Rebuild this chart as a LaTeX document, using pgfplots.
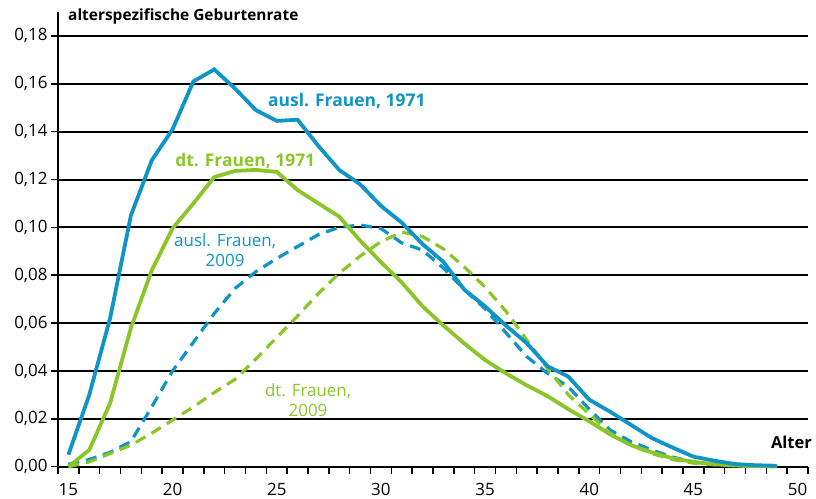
\documentclass[border=0pt]{standalone}
\usepackage{fontspec}
\setmainfont{Open Sans}
\usepackage{pgfplots}
\pgfplotsset{compat=1.18}
\definecolor{ausl}{RGB}{14,148,198}
\definecolor{dt}{RGB}{138,198,40}
\begin{document}
\begin{tikzpicture}[font=\fontsize{17}{20}\selectfont]
\begin{axis}[
    scale only axis,
    width=750bp, height=454.7bp,
    xmin=14.5, xmax=50.5, ymin=0, ymax=0.19,
    axis x line=bottom, axis y line=left,
    axis line style={line width=2bp, -},
    ytick={0,0.02,0.04,0.06,0.08,0.10,0.12,0.14,0.16,0.18},
    ymajorgrids,
    grid style={black, line width=2bp},
    yticklabel style={/pgf/number format/.cd, fixed, fixed zerofill, precision=2, use comma, assume math mode=true},
    xtick={14.5,15.5,...,50.5},
    xticklabels={},
    extra x ticks={15,20,25,30,35,40,45,50},
    extra x tick labels={15,20,25,30,35,40,45,50},
    extra x tick style={grid=none, major tick length=0pt, xticklabel style={yshift=-13bp}},
    tick align=outside,
    major tick length=7bp,
    tick style={black, line width=1.5bp},
    clip=false,
]
% ausl. Frauen 2009
\addplot[ausl, line width=3.2bp, dash pattern=on 11bp off 7bp] coordinates {
(15,0.001)(16,0.003)(17,0.006)(18,0.0105)(19,0.025)(20,0.040)(21,0.052)(22,0.064)
(23,0.0745)(24,0.0815)(25,0.087)(26,0.092)(27,0.097)(28,0.100)(29,0.101)(30,0.0995)
(31,0.0935)(32,0.0905)(33,0.083)(34,0.074)(35,0.066)(36,0.056)(37,0.046)(38,0.039)
(39,0.0334)(40,0.024)(41,0.0153)(42,0.0105)(43,0.007)(44,0.004)(45,0.002)(46,0.001)
(47,0.0007)(48,0.0005)(49,0.0003)};
% dt. Frauen 2009
\addplot[dt, line width=3.2bp, dash pattern=on 11bp off 7bp] coordinates {
(15,0)(16,0.002)(17,0.0055)(18,0.009)(19,0.014)(20,0.0195)(21,0.025)(22,0.031)
(23,0.0365)(24,0.045)(25,0.054)(26,0.063)(27,0.0724)(28,0.0808)(29,0.088)(30,0.094)
(31,0.098)(32,0.0962)(33,0.091)(34,0.0835)(35,0.075)(36,0.065)(37,0.053)(38,0.041)
(39,0.030)(40,0.022)(41,0.014)(42,0.009)(43,0.0055)(44,0.003)(45,0.0015)(46,0.0008)
(47,0.0004)(48,0.0002)(49,0.0001)};
% dt. Frauen 1971
\addplot[dt, line width=3.8bp] coordinates {
(15,0)(16,0.007)(17,0.0265)(18,0.058)(19,0.082)(20,0.0996)(21,0.110)(22,0.121)
(23,0.1236)(24,0.124)(25,0.1232)(26,0.1156)(27,0.110)(28,0.1045)(29,0.0945)(30,0.0855)
(31,0.077)(32,0.067)(33,0.059)(34,0.0515)(35,0.0446)(36,0.039)(37,0.034)(38,0.0295)
(39,0.024)(40,0.019)(41,0.0135)(42,0.009)(43,0.006)(44,0.0035)(45,0.002)(46,0.001)
(47,0.0005)(48,0.0002)(49,0.0001)};
% ausl. Frauen 1971
\addplot[ausl, line width=3.8bp] coordinates {
(15,0.005)(16,0.030)(17,0.062)(18,0.105)(19,0.128)(20,0.141)(21,0.161)(22,0.166)
(23,0.158)(24,0.149)(25,0.1445)(26,0.145)(27,0.134)(28,0.124)(29,0.118)(30,0.109)
(31,0.102)(32,0.093)(33,0.0856)(34,0.074)(35,0.067)(36,0.059)(37,0.0516)(38,0.042)
(39,0.0376)(40,0.028)(41,0.023)(42,0.0175)(43,0.012)(44,0.008)(45,0.0042)(46,0.0025)
(47,0.0011)(48,0.0006)(49,0.0004)};

\node[anchor=base west, inner sep=0, font=\bfseries\fontsize{15.5}{18}\selectfont] at (axis cs:14.98,0.1863) {alterspezifische Geburtenrate};
\node[anchor=base east, inner sep=0, font=\bfseries\fontsize{16.5}{20}\selectfont] at (axis cs:50.69,0.0078) {Alter};
\node[anchor=base west, inner sep=0, font=\bfseries\fontsize{17.5}{20}\selectfont, text=ausl] at (axis cs:24.58,0.1507) {ausl. Frauen, 1971};
\node[anchor=base west, inner sep=0, font=\bfseries\fontsize{17.5}{20}\selectfont, text=dt] at (axis cs:20.12,0.1256) {dt. Frauen, 1971};
\node[anchor=base, inner sep=0, text=ausl] at (axis cs:22.52,0.0922) {ausl. Frauen,};
\node[anchor=base, inner sep=0, text=ausl] at (axis cs:22.52,0.0838) {2009};
\node[anchor=base, inner sep=0, text=dt] at (axis cs:26.5,0.0292) {dt. Frauen,};
\node[anchor=base, inner sep=0, text=dt] at (axis cs:26.5,0.0209) {2009};
\end{axis}
\pgfresetboundingbox
\path[use as bounding box] (-58bp,-32.3bp) rectangle (758bp,466.7bp);
\end{tikzpicture}
\end{document}
